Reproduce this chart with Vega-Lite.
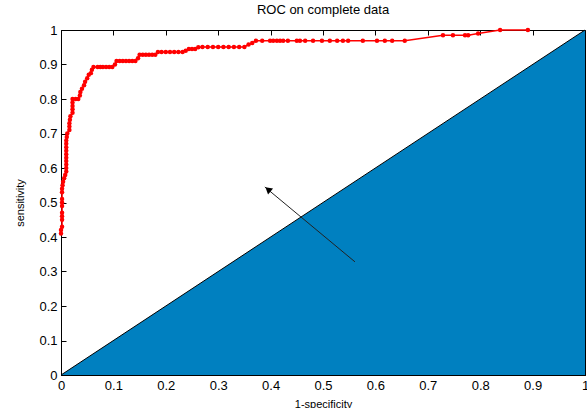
{
  "$schema": "https://vega.github.io/schema/vega-lite/v6.json",
  "width": 524,
  "height": 345,
  "autosize": "none",
  "padding": {"left": 61, "top": 30, "right": 2, "bottom": 33},
  "background": "white",
  "title": {"text": "ROC on complete data", "fontSize": 13, "fontWeight": "normal", "font": "Liberation Sans", "color": "#000000", "offset": 7, "anchor": "middle"},
  "config": {
    "view": {"stroke": "#000000", "strokeWidth": 1},
    "axis": {"grid": false, "domainColor": "#000000", "tickColor": "#000000", "labelColor": "#000000", "titleColor": "#000000", "labelFont": "Liberation Sans", "titleFont": "Liberation Sans", "labelFontSize": 13, "titleFontSize": 11, "titleFontWeight": "normal", "tickSize": -5, "labelPadding": 9}
  },
  "datasets": {
    "diag": [{"x": 0, "y": 0}, {"x": 1, "y": 1}],
    "roc": [
      {"x": 0, "y": 0.41}, {"x": 0, "y": 0.42}, {"x": 0.002, "y": 0.43}, {"x": 0.002, "y": 0.45}, {"x": 0.002, "y": 0.46}, {"x": 0.002, "y": 0.47}, {"x": 0.002, "y": 0.49}, {"x": 0.002, "y": 0.5}, {"x": 0.002, "y": 0.51}, {"x": 0.002, "y": 0.53}, {"x": 0.002, "y": 0.54}, {"x": 0.003, "y": 0.55}, {"x": 0.004, "y": 0.56}, {"x": 0.006, "y": 0.57}, {"x": 0.008, "y": 0.58},
      {"x": 0.01, "y": 0.59}, {"x": 0.01, "y": 0.6}, {"x": 0.01, "y": 0.61}, {"x": 0.01, "y": 0.62}, {"x": 0.01, "y": 0.63}, {"x": 0.01, "y": 0.64}, {"x": 0.01, "y": 0.65}, {"x": 0.01, "y": 0.66}, {"x": 0.01, "y": 0.67}, {"x": 0.01, "y": 0.68}, {"x": 0.011, "y": 0.69}, {"x": 0.012, "y": 0.7},
      {"x": 0.016, "y": 0.71}, {"x": 0.016, "y": 0.72}, {"x": 0.016, "y": 0.73}, {"x": 0.017, "y": 0.74}, {"x": 0.018, "y": 0.75},
      {"x": 0.022, "y": 0.76}, {"x": 0.022, "y": 0.77}, {"x": 0.022, "y": 0.78}, {"x": 0.022, "y": 0.79}, {"x": 0.022, "y": 0.8},
      {"x": 0.028, "y": 0.8}, {"x": 0.033, "y": 0.8}, {"x": 0.036, "y": 0.81}, {"x": 0.037, "y": 0.82}, {"x": 0.04, "y": 0.83}, {"x": 0.044, "y": 0.84}, {"x": 0.046, "y": 0.85}, {"x": 0.05, "y": 0.86}, {"x": 0.053, "y": 0.87}, {"x": 0.057, "y": 0.875}, {"x": 0.059, "y": 0.885}, {"x": 0.062, "y": 0.893},
      {"x": 0.07, "y": 0.893}, {"x": 0.075, "y": 0.893}, {"x": 0.08, "y": 0.893}, {"x": 0.086, "y": 0.893}, {"x": 0.092, "y": 0.893}, {"x": 0.098, "y": 0.893}, {"x": 0.103, "y": 0.9}, {"x": 0.106, "y": 0.91}, {"x": 0.112, "y": 0.91}, {"x": 0.118, "y": 0.91}, {"x": 0.124, "y": 0.91}, {"x": 0.13, "y": 0.91}, {"x": 0.136, "y": 0.91}, {"x": 0.142, "y": 0.91}, {"x": 0.147, "y": 0.918}, {"x": 0.15, "y": 0.928}, {"x": 0.156, "y": 0.928}, {"x": 0.162, "y": 0.928}, {"x": 0.168, "y": 0.928}, {"x": 0.174, "y": 0.928}, {"x": 0.18, "y": 0.928}, {"x": 0.185, "y": 0.936}, {"x": 0.192, "y": 0.936}, {"x": 0.2, "y": 0.936}, {"x": 0.208, "y": 0.936}, {"x": 0.216, "y": 0.936}, {"x": 0.224, "y": 0.936}, {"x": 0.232, "y": 0.936}, {"x": 0.238, "y": 0.94}, {"x": 0.244, "y": 0.945}, {"x": 0.25, "y": 0.945}, {"x": 0.256, "y": 0.945}, {"x": 0.262, "y": 0.95}, {"x": 0.27, "y": 0.951}, {"x": 0.28, "y": 0.951}, {"x": 0.29, "y": 0.951}, {"x": 0.3, "y": 0.951}, {"x": 0.31, "y": 0.951}, {"x": 0.32, "y": 0.951}, {"x": 0.33, "y": 0.951}, {"x": 0.34, "y": 0.951}, {"x": 0.35, "y": 0.951}, {"x": 0.358, "y": 0.958}, {"x": 0.365, "y": 0.962}, {"x": 0.372, "y": 0.969},
      {"x": 0.384, "y": 0.969}, {"x": 0.399, "y": 0.969}, {"x": 0.405, "y": 0.969}, {"x": 0.412, "y": 0.969}, {"x": 0.418, "y": 0.969}, {"x": 0.424, "y": 0.969}, {"x": 0.433, "y": 0.969}, {"x": 0.45, "y": 0.969}, {"x": 0.456, "y": 0.969}, {"x": 0.466, "y": 0.969}, {"x": 0.481, "y": 0.969}, {"x": 0.498, "y": 0.969}, {"x": 0.513, "y": 0.969}, {"x": 0.527, "y": 0.969}, {"x": 0.538, "y": 0.969}, {"x": 0.548, "y": 0.969}, {"x": 0.576, "y": 0.969}, {"x": 0.603, "y": 0.969}, {"x": 0.618, "y": 0.969}, {"x": 0.632, "y": 0.969}, {"x": 0.656, "y": 0.969},
      {"x": 0.729, "y": 0.985}, {"x": 0.748, "y": 0.985}, {"x": 0.771, "y": 0.985}, {"x": 0.777, "y": 0.985}, {"x": 0.796, "y": 0.99}, {"x": 0.838, "y": 1.0}, {"x": 0.891, "y": 1.0}
    ],
    "arrow": [{"x": 0.561, "y": 0.328, "x2": 0.389, "y2": 0.545}],
    "head": [{"x": 0.395, "y": 0.538}]
  },
  "resolve": {"axis": {"x": "independent", "y": "independent"}},
  "layer": [
    {
      "data": {"name": "diag"},
      "mark": {"type": "area", "color": "#0080C0", "opacity": 1},
      "encoding": {
        "x": {"field": "x", "type": "quantitative", "scale": {"domain": [0, 1], "nice": false, "zero": false}, "axis": {"orient": "bottom", "values": [0, 0.1, 0.2, 0.3, 0.4, 0.5, 0.6, 0.7, 0.8, 0.9, 1], "format": ".1~f", "title": "1-specificity", "titlePadding": 6, "labelFlush": false}},
        "y": {"field": "y", "type": "quantitative", "scale": {"domain": [0, 1], "nice": false, "zero": false}, "axis": {"orient": "left", "values": [0, 0.1, 0.2, 0.3, 0.4, 0.5, 0.6, 0.7, 0.8, 0.9, 1], "format": ".1~f", "title": "sensitivity", "titlePadding": 13, "labelFlush": false}}
      }
    },
    {
      "data": {"name": "diag"},
      "mark": {"type": "line", "color": "#000000", "strokeWidth": 1},
      "encoding": {
        "x": {"field": "x", "type": "quantitative", "axis": {"orient": "top", "values": [0, 0.1, 0.2, 0.3, 0.4, 0.5, 0.6, 0.7, 0.8, 0.9, 1], "labels": false, "title": null, "domain": false}},
        "y": {"field": "y", "type": "quantitative", "axis": {"orient": "right", "values": [0, 0.1, 0.2, 0.3, 0.4, 0.5, 0.6, 0.7, 0.8, 0.9, 1], "labels": false, "title": null, "domain": false}}
      }
    },
    {
      "data": {"name": "roc"},
      "mark": {"type": "line", "color": "#FF0000", "strokeWidth": 1.5, "point": {"filled": true, "size": 20, "color": "#FF0000", "opacity": 1}},
      "encoding": {
        "x": {"field": "x", "type": "quantitative", "axis": null},
        "y": {"field": "y", "type": "quantitative", "axis": null},
        "order": {"field": "x", "type": "quantitative"}
      }
    },
    {
      "data": {"name": "arrow"},
      "mark": {"type": "rule", "color": "#222222", "strokeWidth": 1},
      "encoding": {
        "x": {"field": "x", "type": "quantitative", "axis": null},
        "y": {"field": "y", "type": "quantitative", "axis": null},
        "x2": {"field": "x2"},
        "y2": {"field": "y2"}
      }
    },
    {
      "data": {"name": "head"},
      "mark": {"type": "point", "shape": "triangle-up", "filled": true, "color": "#000000", "size": 60, "angle": 310, "opacity": 1},
      "encoding": {
        "x": {"field": "x", "type": "quantitative", "axis": null},
        "y": {"field": "y", "type": "quantitative", "axis": null}
      }
    }
  ]
}
